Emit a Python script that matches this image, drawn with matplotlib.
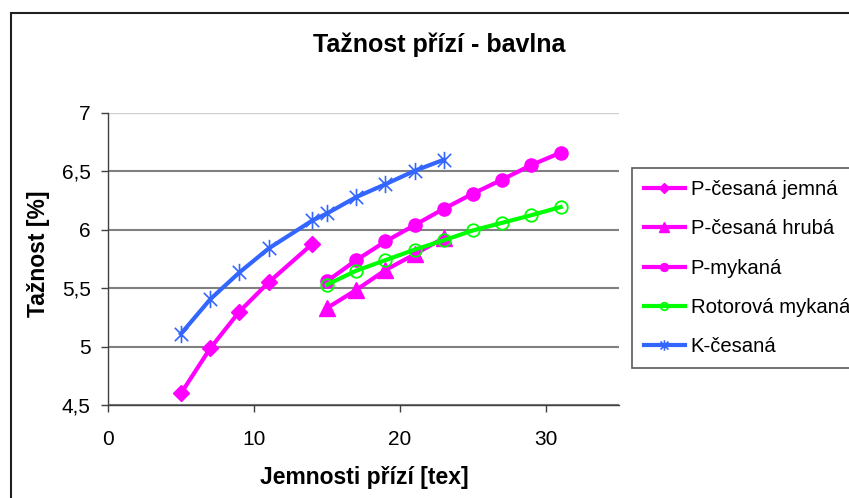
import matplotlib
matplotlib.use("Agg")
import matplotlib.pyplot as plt
from matplotlib.path import Path
from matplotlib.patches import Rectangle

plt.rcParams['font.family'] = ['Liberation Sans', 'DejaVu Sans']

# data
x_jemna = [5, 7, 9, 11, 14]
y_jemna = [4.60, 4.985, 5.30, 5.55, 5.88]

x_hruba = [15, 17, 19, 21, 23]
y_hruba = [5.33, 5.485, 5.655, 5.79, 5.93]

x_myk = [15, 17, 19, 21, 23, 25, 27, 29, 31]
y_myk = [5.56, 5.74, 5.90, 6.04, 6.18, 6.31, 6.43, 6.555, 6.66]

x_rotor = [15, 17, 19, 21, 23, 25, 27, 29, 31]
y_rotor = [5.53, 5.65, 5.74, 5.83, 5.91, 5.995, 6.06, 6.125, 6.195]

x_kces = [5, 7, 9, 11, 14, 15, 17, 19, 21, 23]
y_kces = [5.11, 5.405, 5.635, 5.84, 6.08, 6.14, 6.28, 6.39, 6.505, 6.60]

labels = ['P-česaná jemná', 'P-česaná hrubá', 'P-mykaná',
          'Rotorová mykaná', 'K-česaná']
yticks = [4.5, 5, 5.5, 6, 6.5, 7]
ytick_labels = ['4,5', '5', '5,5', '6', '6,5', '7']
xticks = [0, 10, 20, 30]

magenta = '#FF00FF'
green = '#00FF00'
blue = '#3366FF'

# Excel style asterisk: X plus vertical bar
star = Path([(-1, -1), (1, 1), (-1, 1), (1, -1), (0, -1.3), (0, 1.3)],
            [Path.MOVETO, Path.LINETO, Path.MOVETO, Path.LINETO,
             Path.MOVETO, Path.LINETO])

fig = plt.figure(figsize=(8.49, 4.98), dpi=100)
ax = fig.add_axes([108/849, 1 - 405/498, (619 - 108)/849, (405 - 113)/498])

lw = 3
ax.plot(x_jemna, y_jemna, color=magenta, lw=lw, marker='D', ms=8.2,
        label=labels[0], zorder=3)
ax.plot(x_hruba, y_hruba, color=magenta, lw=lw, marker='^', ms=12,
        label=labels[1], zorder=3)
ax.plot(x_myk, y_myk, color=magenta, lw=lw, marker='o', ms=9.5,
        label=labels[2], zorder=3)
ax.plot(x_rotor, y_rotor, color=green, lw=lw, marker='o', ms=9,
        mfc='none', mec=green, mew=1.3, label=labels[3], zorder=3)
ax.plot(x_kces, y_kces, color=blue, lw=lw, marker=star, ms=12.5,
        mec=blue, mew=1.2, label=labels[4], zorder=3)

ax.set_xlim(0, 35)
ax.set_ylim(4.5, 7)
ax.set_xticks(xticks)
ax.set_yticks(yticks)
ax.set_yticklabels(ytick_labels)
ax.tick_params(axis='both', labelsize=15, length=5, width=1,
               color='#404040', direction='out')
ax.tick_params(axis='x', pad=13)
ax.tick_params(axis='y', pad=7.5)

ax.yaxis.grid(True, color='#808080', lw=1.5, zorder=1)
gl = ax.get_ygridlines()
gl[-1].set_color('#d0d0d0')
gl[-1].set_linewidth(1)

for s in ['top', 'right']:
    ax.spines[s].set_visible(False)
for s in ['left', 'bottom']:
    ax.spines[s].set_color('#404040')
    ax.spines[s].set_linewidth(1)

fig.text(439/849, 1 - 45/498, 'Tažnost přízí - bavlna', fontsize=18,
         fontweight='bold', ha='center', va='center')
fig.text(364/849, 1 - 477/498, 'Jemnosti přízí [tex]', fontsize=16.5,
         fontweight='bold', ha='center', va='center')
fig.text(39/849, 1 - 254/498, 'Tažnost [%]', fontsize=16.5,
         fontweight='bold', ha='center', va='center', rotation=90)

leg = fig.legend(loc='upper left', bbox_to_anchor=(632/849, 1 - 168/498),
                 fontsize=14.6, frameon=True, fancybox=False, markerscale=0.6,
                 handlelength=2.0, handletextpad=0.3, labelspacing=1.0,
                 borderpad=0.6, borderaxespad=0)
leg.get_frame().set_edgecolor('#303030')
leg.get_frame().set_linewidth(1.2)

fig.patches.append(Rectangle((11/849, -0.2), 1.2, 1 - 13/498 + 0.2,
                             transform=fig.transFigure, fill=False,
                             ec='#202020', lw=1.5))

fig.savefig('out.png', dpi=100)
